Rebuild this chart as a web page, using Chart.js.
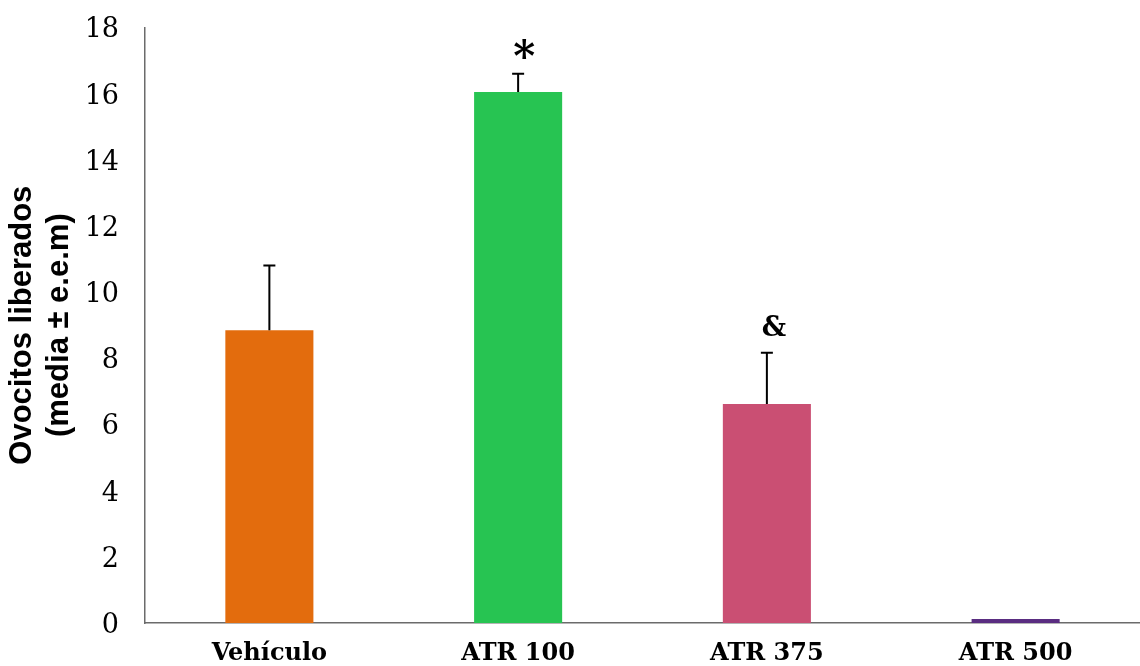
<!DOCTYPE html>
<html>
<head>
<meta charset="utf-8">
<script src="https://cdn.jsdelivr.net/npm/chart.js@4.4.1/dist/chart.umd.min.js"></script>
<style>
  html, body { margin: 0; padding: 0; background: #fff; }
  #wrap { width: 1140px; height: 666px; }
</style>
</head>
<body>
<div id="wrap"><canvas id="barChart"></canvas></div>
<script>
// -----------------------------
// Data
// -----------------------------
const categories = ['Vehículo', 'ATR 100', 'ATR 375', 'ATR 500'];
const means = [8.85, 16.05, 6.62, 0.12];
const sem = [1.95, 0.55, 1.55, 0];
const marks = ['', '*', '&', ''];
const yTicks = [0, 2, 4, 6, 8, 10, 12, 14, 16, 18];

const barColors = ['#E36C0D', '#27C452', '#CA4F73', '#5A2D81'];

// -----------------------------
// Error bars + significance marks
// -----------------------------
const errorBars = {
    id: 'errorBars',
    afterDatasetsDraw(chart) {
        const ctx = chart.ctx;
        const y = chart.scales.y;
        const meta = chart.getDatasetMeta(0);
        ctx.save();
        meta.data.forEach((bar, i) => {
            const x = bar.x;
            const top = y.getPixelForValue(means[i] + sem[i]);
            if (sem[i] > 0) {
                ctx.strokeStyle = '#000';
                ctx.lineWidth = 2;
                ctx.beginPath();
                ctx.moveTo(x, bar.y);
                ctx.lineTo(x, top);
                ctx.moveTo(x - 6, top);
                ctx.lineTo(x + 6, top);
                ctx.stroke();
            }
            if (marks[i]) {
                ctx.fillStyle = '#000';
                ctx.textAlign = 'center';
                ctx.textBaseline = 'middle';
                if (marks[i] === '*') {
                    ctx.font = 'bold 42px "DejaVu Serif"';
                    ctx.fillText(marks[i], x + 6, top - 14);
                } else {
                    ctx.font = 'bold 27px "DejaVu Serif"';
                    ctx.fillText(marks[i], x + 7, top - 24);
                }
            }
        });
        ctx.restore();
    }
};

new Chart(document.getElementById('barChart'), {
    type: 'bar',
    data: {
        labels: categories,
        datasets: [{
            data: means,
            backgroundColor: barColors,
            borderWidth: 0,
            barPercentage: 0.354,
            categoryPercentage: 1
        }]
    },
    options: {
        responsive: true,
        maintainAspectRatio: false,
        animation: false,
        layout: { padding: { top: 27, right: 0, bottom: 0, left: 0 } },
        plugins: {
            legend: { display: false },
            tooltip: { enabled: false }
        },
        scales: {
            x: {
                afterFit: scale => { scale.height = 43; },
                grid: { display: false, drawTicks: false },
                border: { display: true, color: '#6b6b6b', width: 1.5 },
                ticks: {
                    color: '#000',
                    padding: 19,
                    font: { family: 'DejaVu Serif', size: 24, weight: 'bold', lineHeight: 1 }
                }
            },
            y: {
                min: 0,
                max: 18,
                afterBuildTicks: scale => {
                    scale.ticks = yTicks.map(v => ({ value: v }));
                },
                afterFit: scale => { scale.width = 145; },
                grid: { display: false, drawTicks: false },
                border: { display: true, color: '#6b6b6b', width: 1.5 },
                ticks: {
                    color: '#000',
                    padding: 26,
                    labelOffset: 3,
                    font: { family: 'DejaVu Serif', size: 27, lineHeight: 0.1 }
                },
                title: {
                    display: true,
                    text: ['Ovocitos liberados', '(media ± e.e.m)'],
                    color: '#000',
                    padding: { top: 4, bottom: 0 },
                    font: { family: 'Liberation Sans', size: 31, weight: 'bold', lineHeight: 1.2 }
                }
            }
        }
    },
    plugins: [errorBars]
});
</script>
</body>
</html>
